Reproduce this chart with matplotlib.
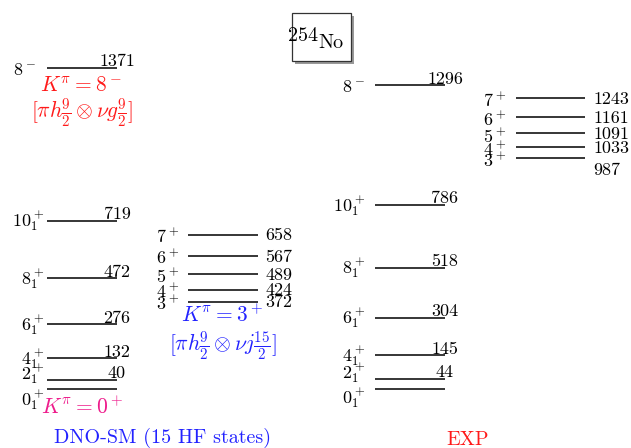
import matplotlib
matplotlib.use("Agg")
import matplotlib.pyplot as plt
from matplotlib.patches import Rectangle

plt.rcParams['mathtext.fontset'] = 'cm'
plt.rcParams['font.family'] = 'cmr10'
plt.rcParams['axes.unicode_minus'] = False

# ---------------- data ----------------
gs_spins = [r'$0_1^+$', r'$2_1^+$', r'$4_1^+$', r'$6_1^+$', r'$8_1^+$', r'$10_1^+$']
dno_gs_E = [0, 40, 132, 276, 472, 719]
exp_gs_E = [0, 44, 145, 304, 518, 786]

k8_spin = r'$8^-$'
dno_k8_E = [1371]
exp_k8_E = [1296]

k3_spins = [r'$3^+$', r'$4^+$', r'$5^+$', r'$6^+$', r'$7^+$']
dno_k3_E = [372, 424, 489, 567, 658]
exp_k3_E = [987, 1033, 1091, 1161, 1243]

# ---------------- layout ----------------
W, H = 631, 448
PX0 = 389.0     # pixel row of E = 0
SC = 0.2342     # pixels per keV


def E(py):
    return (PX0 - py) / SC


fig = plt.figure(figsize=(W / 100, H / 100), dpi=100)
ax = fig.add_axes([0, 0, 1, 1])
ax.set_xlim(0, W)
ax.set_ylim(E(H), E(0))
ax.axis('off')

FS_NUM = 13
FS_LAB = 15.5
LW = 1.1
PT = 0.72  # points per pixel


def levels(x0, x1, energies):
    ax.hlines(energies, x0, x1, color='black', lw=LW)


def num_top(xc, e, txt):
    ax.annotate(txt, (xc, e), xytext=(0, 1.5 * PT), textcoords='offset points',
                ha='center', va='baseline', fontsize=FS_NUM)


def num_right(x, e, txt, dy=-6):
    ax.annotate(txt, (x, e), xytext=(0, dy * PT), textcoords='offset points',
                ha='left', va='baseline', fontsize=FS_NUM)


def spin(x, e, txt, dy=-6):
    ax.annotate(txt, (x, e), xytext=(0, dy * PT), textcoords='offset points',
                ha='right', va='baseline', fontsize=FS_NUM)


gs_dy = [-16, 0, -6, -6, -6, -6]

# DNO ground band
levels(47, 117, dno_gs_E)
for s, e, d in zip(gs_spins, dno_gs_E, gs_dy):
    spin(44, e, s, d)
for e in dno_gs_E[1:]:
    num_top(117, e, str(e))
# DNO K=8-
levels(47, 117, dno_k8_E)
spin(36, dno_k8_E[0], k8_spin, -7)
num_top(117, dno_k8_E[0], str(dno_k8_E[0]))
# DNO K=3+ band
levels(188, 258, dno_k3_E)
for s, e in zip(k3_spins, dno_k3_E):
    spin(179, e, s, -8)
    num_right(265, e, str(e), -5.5)

# EXP ground band
levels(375, 445, exp_gs_E)
for s, e, d in zip(gs_spins, exp_gs_E, [-14, 0, -6, -6, -6, -6]):
    spin(365, e, s, d)
for e in exp_gs_E[1:]:
    num_top(445, e, str(e))
# EXP K=8-
levels(375, 445, exp_k8_E)
spin(365, exp_k8_E[0], k8_spin, -7)
num_top(445, exp_k8_E[0], str(exp_k8_E[0]))
# EXP K=3+ band
levels(516, 585, exp_k3_E)
for i, (s, e) in enumerate(zip(k3_spins, exp_k3_E)):
    spin(506, e, s, -9)
    num_right(593, e, str(e), -17 if i == 0 else -6)

# band labels
RED = '#ff1a1a'
BLUE = '#2222ff'
MAG = '#ee1c8c'
ax.text(81, E(86), r'$K^\pi=8^-$', color=RED, fontsize=FS_LAB, ha='center', va='center')
ax.text(82, E(113), r'$[\pi h\frac{9}{2}\otimes\nu g\frac{9}{2}]$', color=RED,
        fontsize=FS_LAB, ha='center', va='center')
ax.text(82, E(407), r'$K^\pi=0^+$', color=MAG, fontsize=FS_LAB, ha='center', va='center')
ax.text(222, E(315), r'$K^\pi=3^+$', color=BLUE, fontsize=FS_LAB, ha='center', va='center')
ax.text(223, E(346), r'$[\pi h\frac{9}{2}\otimes\nu j\frac{15}{2}]$', color=BLUE,
        fontsize=FS_LAB, ha='center', va='center')

ax.text(163, E(438), 'DNO-SM (15 HF states)', color=BLUE, fontsize=14.5,
        ha='center', va='center')
ax.text(468, E(440), 'EXP', color=RED, fontsize=14.5, ha='center', va='center')

# title box with shadow
bx0, bx1, by0, by1 = 292, 351, 13, 61
ax.add_patch(Rectangle((bx0 + 2.5, E(by1 + 2.5)), bx1 - bx0, E(by0) - E(by1),
                       facecolor='#999999', edgecolor='none', zorder=1))
ax.add_patch(Rectangle((bx0, E(by1)), bx1 - bx0, E(by0) - E(by1),
                       facecolor='white', edgecolor='#333333', lw=0.9, zorder=2))
ax.text(318, E(41), '254', fontsize=14.5, ha='right', va='baseline', zorder=3)
ax.text(318, E(48), 'No', fontsize=14.5, ha='left', va='baseline', zorder=3)

fig.savefig('out.png', dpi=100)
